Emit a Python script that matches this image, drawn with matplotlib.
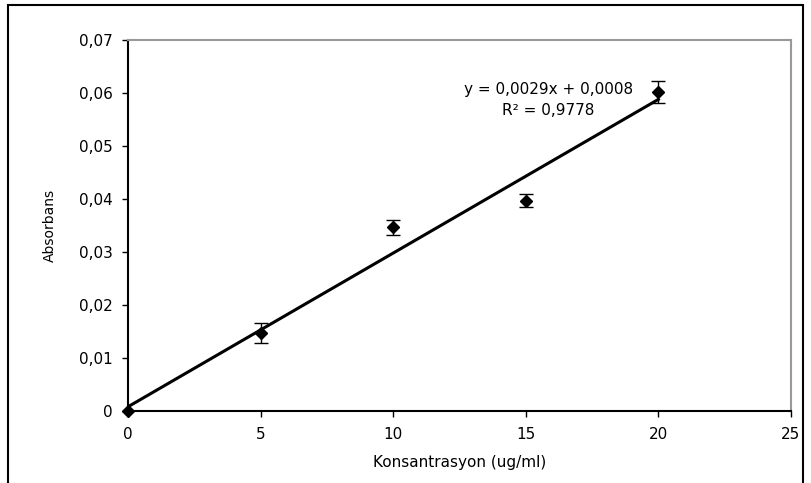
import numpy as np
import matplotlib.pyplot as plt
from matplotlib.patches import Rectangle

plt.rcParams['font.family'] = ['DejaVu Sans']

konsantrasyon = [0, 5, 10, 15, 20]
absorbans = [0.0, 0.0147, 0.0347, 0.0397, 0.0602]
hata = [0.0, 0.0019, 0.0014, 0.0013, 0.0021]
egim = 0.0029
kesim = 0.0008
r2 = 0.9778

fig = plt.figure(figsize=(8.12, 4.83), dpi=100)
ax = fig.add_axes([128 / 812, 1 - 411 / 483, 663 / 812, 371 / 483])

# outer frame
fig.patches.append(Rectangle((8 / 812, -0.05), 795 / 812, 1 - 5 / 483 + 0.05,
                             transform=fig.transFigure, fill=False,
                             edgecolor='black', linewidth=1.5))

xs = np.array([0, 20])
ax.plot(xs, egim * xs + kesim, color='black', linewidth=2.2, zorder=2)

ax.errorbar(konsantrasyon[1:], absorbans[1:], yerr=hata[1:], fmt='none',
            ecolor='black', elinewidth=1, capsize=4.7, capthick=1, zorder=3)
ax.plot(konsantrasyon, absorbans, 'D', color='black', markersize=6.5, zorder=4,
        clip_on=False)

ax.text(15.84, 0.0598, f"y = {egim:.4f}x + {kesim:.4f}".replace('.', ','),
        ha='center', va='baseline', fontsize=11)
ax.text(15.84, 0.0558, "R² = " + f"{r2:.4f}".replace('.', ','),
        ha='center', va='baseline', fontsize=11)

ax.set_xlim(0, 25)
ax.set_ylim(0, 0.07)
ax.set_xticks([0, 5, 10, 15, 20, 25])
ax.set_yticks(np.arange(0, 0.071, 0.01))
ax.set_yticklabels(['0'] + [f"{v:.2f}".replace('.', ',') for v in np.arange(0.01, 0.071, 0.01)])

for side in ['top', 'right']:
    ax.spines[side].set_color('#999999')
    ax.spines[side].set_linewidth(1.5)
for side in ['left', 'bottom']:
    ax.spines[side].set_color('black')
    ax.spines[side].set_linewidth(1.5)
ax.tick_params(direction='out', length=4.3, width=1, labelsize=11)
ax.tick_params(axis='y', pad=6.5)
ax.tick_params(axis='x', pad=7.5)

ax.set_xlabel("Konsantrasyon (ug/ml)", fontsize=11)
ax.xaxis.set_label_coords(0.5, (411 - 462) / 371)
ax.xaxis.label.set_verticalalignment('center')
ax.set_ylabel("Absorbans", fontsize=10, va='center')
ax.yaxis.set_label_coords((50 - 128) / 663, 0.5)

fig.savefig("out.png", dpi=100)
